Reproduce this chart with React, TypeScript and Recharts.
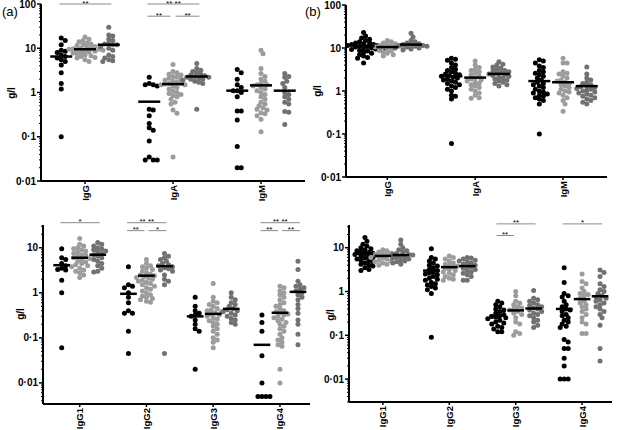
import React from 'react';
import { ScatterChart, Scatter, XAxis, YAxis, ReferenceLine } from 'recharts';

// group colours: black, light grey, dark grey
const groupColors = ['#000000', '#9c9c9c', '#717171'];
const groupOffsets = [-0.27, 0, 0.27];

// ---- panel (a) ----
const panelA_categories = ['IgG', 'IgA', 'IgM'];
const panelA_IgG = [
  [17, 15, 12, 9, 8.5, 8, 7, 6.5, 6, 5.5, 5, 4.2, 2.8, 1.6, 1.2, 0.1],
  [18, 16, 15, 14, 13, 12.5, 12, 11.5, 11, 10.5, 10, 10, 9.8, 9.5, 9.5, 9.2, 9, 8.8, 8.5, 8.2, 8, 7.8, 7.5, 7, 6.8, 6.5, 6.2, 6, 5.5, 5],
  [30, 20, 19, 16, 15, 13, 12.5, 12, 12, 11, 10, 9, 7, 6.5, 6, 5.5, 5.2, 5],
];
const panelA_IgA = [
  [2.2, 1.6, 1.5, 1.5, 1.4, 0.42, 0.4, 0.3, 0.2, 0.16, 0.14, 0.08, 0.035, 0.03, 0.03, 0.03],
  [4.3, 3, 2.8, 2.6, 2.5, 2.3, 2.2, 2.1, 2, 1.9, 1.8, 1.7, 1.6, 1.6, 1.55, 1.5, 1.5, 1.4, 1.3, 1.2, 1.1, 1, 0.95, 0.9, 0.85, 0.8, 0.7, 0.6, 0.55, 0.4, 0.34, 0.035],
  [4.5, 3.5, 3.2, 3, 2.8, 2.6, 2.5, 2.4, 2.3, 2.2, 2.2, 2.1, 2, 2, 1.9, 1.8, 1.7, 1.6, 0.42],
];
const panelA_IgM = [
  [3.3, 2.8, 2, 1.5, 1.3, 1.1, 1.1, 1, 0.8, 0.38, 0.38, 0.24, 0.06, 0.02, 0.02],
  [9, 7.5, 3.5, 2.7, 2.3, 2, 1.8, 1.6, 1.5, 1.5, 1.4, 1.3, 1.2, 1.1, 1, 0.9, 0.8, 0.7, 0.6, 0.55, 0.5, 0.45, 0.42, 0.4, 0.35, 0.33, 0.3, 0.25, 0.13],
  [2.7, 2.3, 2.2, 1.8, 1.6, 1.3, 1, 0.9, 0.8, 0.7, 0.6, 0.55, 0.37, 0.36, 0.19],
];
const panelA_medians = [[6.5, 9.5, 12], [0.62, 1.55, 2.3], [1.1, 1.45, 1.1]];
const panelA_sig = [
  { cat: 0, from: 0, to: 2, y: 100, text: '**' },
  { cat: 1, from: 0, to: 2, y: 100, text: '** **' },
  { cat: 1, from: 0, to: 1, y: 53, text: '**' },
  { cat: 1, from: 1, to: 2, y: 53, text: '**' },
];

// ---- panel (b) ----
const panelB_categories = ['IgG', 'IgA', 'IgM'];
const panelB_IgG = [
  [23, 19, 17, 16, 15, 14, 13, 13, 12.5, 12, 12, 11.5, 11.5, 11, 11, 10.8, 10.5, 10.5, 10, 10, 9.8, 9.5, 9.2, 9, 8.8, 8.5, 8, 7.5, 7, 6.5, 6, 5.8, 4.5],
  [15, 14, 13, 12.5, 12, 11.5, 11, 11, 10.5, 10.5, 10, 10, 9.5, 9, 8.5, 8, 7.5, 7, 6.5],
  [22, 18, 15, 14, 13, 12.5, 12, 12, 11.5, 11.5, 11, 11, 10.5, 10, 10, 9.5, 9],
];
const panelB_IgA = [
  [5.8, 5.5, 5.2, 4.5, 4, 3.5, 3.2, 3, 2.8, 2.6, 2.5, 2.4, 2.3, 2.2, 2.1, 2, 1.9, 1.8, 1.7, 1.6, 1.5, 1.4, 1.3, 1.2, 1.1, 1, 0.8, 0.75, 0.65, 0.06],
  [5, 4, 3.5, 3.2, 3, 2.8, 2.6, 2.4, 2.2, 2, 1.9, 1.8, 1.7, 1.6, 1.5, 1.4, 1.3, 1.2, 1.1, 1, 0.9, 0.8, 0.7, 0.68],
  [4.8, 4.2, 4, 3.6, 3.4, 3.2, 3, 2.9, 2.8, 2.7, 2.6, 2.5, 2.4, 2.3, 2.2, 2.1, 2, 1.9, 1.8, 1.7, 1.6, 1.5, 1.4, 1.3],
];
const panelB_IgM = [
  [5.3, 5, 4.5, 3.8, 3.5, 3, 2.8, 2.6, 2.4, 2.2, 2, 1.8, 1.6, 1.5, 1.4, 1.3, 1.2, 1.1, 1, 0.95, 0.9, 0.85, 0.8, 0.75, 0.7, 0.65, 0.6, 0.5, 0.1],
  [5.8, 4.5, 4.5, 2.8, 2.6, 2.5, 2.2, 2, 1.8, 1.7, 1.6, 1.5, 1.4, 1.3, 1.2, 1.1, 1, 0.95, 0.9, 0.8, 0.7, 0.6, 0.5, 0.34],
  [3.6, 2.5, 2, 1.8, 1.6, 1.5, 1.4, 1.3, 1.25, 1.2, 1.15, 1.1, 1.05, 1, 0.95, 0.9, 0.85, 0.8, 0.75, 0.7, 0.65, 0.6, 0.55, 0.5],
];
const panelB_medians = [[11, 10.5, 12], [2.2, 2.05, 2.5], [1.7, 1.6, 1.3]];

// ---- panel (c) ----
const panelC_categories = ['IgG1', 'IgG2', 'IgG3', 'IgG4'];
const panelC_IgG1 = [
  [9.5, 6, 5.5, 4.5, 4, 3.5, 3.3, 3.2, 1.9, 1, 0.06],
  [16, 12, 11, 10, 9.5, 9, 8.5, 8, 7.5, 7, 6.8, 6.5, 6, 5.8, 5.5, 5, 4.8, 4.5, 4.2, 4, 3.8, 3.5, 3.2, 3, 2.8, 2.5, 2.2],
  [13, 12, 11, 10, 9.5, 9, 8.5, 8, 7.5, 7, 6.5, 6, 5.5, 5, 4.5, 4, 3.5, 3, 2.9],
];
const panelC_IgG2 = [
  [3.8, 1.5, 1.4, 1.3, 1, 0.8, 0.6, 0.4, 0.35, 0.35, 0.14, 0.045],
  [5.5, 4.5, 4, 3.8, 3.5, 3.3, 3, 2.8, 2.6, 2.5, 2.4, 2.3, 2.2, 2.1, 2, 1.9, 1.8, 1.7, 1.6, 1.5, 1.4, 1.3, 1.2, 1.1, 1, 0.9, 0.85, 0.8, 0.75, 0.7, 0.65, 0.62],
  [7.5, 6.5, 6, 5.5, 5, 4.5, 4.2, 4, 3.8, 3.6, 3.4, 3.2, 3, 2.5, 2, 1.8, 1.5, 0.045],
];
const panelC_IgG3 = [
  [0.8, 0.5, 0.4, 0.35, 0.32, 0.3, 0.25, 0.2, 0.16, 0.14, 0.02],
  [1.6, 0.8, 0.65, 0.6, 0.55, 0.5, 0.45, 0.42, 0.4, 0.38, 0.36, 0.34, 0.32, 0.3, 0.28, 0.26, 0.24, 0.22, 0.2, 0.18, 0.16, 0.14, 0.12, 0.1, 0.09, 0.08, 0.06],
  [1, 0.8, 0.7, 0.6, 0.55, 0.5, 0.45, 0.42, 0.4, 0.38, 0.35, 0.32, 0.3, 0.27, 0.25, 0.22, 0.2],
];
const panelC_IgG4 = [
  [0.32, 0.22, 0.14, 0.04, 0.01, 0.005, 0.005, 0.005, 0.005],
  [1.4, 1.3, 1.1, 1, 0.9, 0.8, 0.7, 0.6, 0.55, 0.5, 0.45, 0.4, 0.38, 0.36, 0.34, 0.32, 0.3, 0.28, 0.26, 0.24, 0.22, 0.2, 0.18, 0.16, 0.14, 0.12, 0.1, 0.09, 0.08, 0.07, 0.065, 0.02, 0.01],
  [5, 3.3, 1.8, 1.5, 1.4, 1.3, 1.2, 1.1, 1, 0.9, 0.8, 0.7, 0.55, 0.45, 0.35, 0.25, 0.2, 0.12, 0.07],
];
const panelC_medians = [[4.1, 6, 7], [0.95, 2.4, 3.9], [0.3, 0.34, 0.44], [0.07, 0.36, 1.05]];
const panelC_sig = [
  { cat: 0, from: 0, to: 2, y: 36, text: '*' },
  { cat: 1, from: 0, to: 2, y: 36, text: '** **' },
  { cat: 1, from: 0, to: 1, y: 24, text: '**' },
  { cat: 1, from: 1, to: 2, y: 24, text: '*' },
  { cat: 3, from: 0, to: 2, y: 36, text: '** **' },
  { cat: 3, from: 0, to: 1, y: 24, text: '**' },
  { cat: 3, from: 1, to: 2, y: 24, text: '**' },
];

// ---- panel (d) ----
const panelD_categories = ['IgG1', 'IgG2', 'IgG3', 'IgG4'];
const panelD_IgG1 = [
  [17, 14, 12, 11, 10, 9.5, 9, 8.5, 8, 7.8, 7.5, 7.2, 7, 6.8, 6.5, 6.2, 6, 5.8, 5.5, 5.2, 5, 4.8, 4.5, 4.2, 4, 3.8, 3.5, 3.2, 3],
  [9, 8.5, 8, 7.5, 7.2, 7, 6.8, 6.5, 6.2, 6, 5.8, 5.5, 5.2, 5, 4.8, 4.5, 4.2, 4],
  [15, 12, 10, 9, 8.5, 8, 7.5, 7.2, 7, 6.8, 6.5, 6.2, 6, 5.8, 5.5, 5.2, 5, 4.8, 4.5, 4.2],
];
const panelD_IgG2 = [
  [9.5, 6, 5.5, 5, 4.5, 4, 3.8, 3.5, 3.2, 3, 2.8, 2.6, 2.5, 2.4, 2.2, 2, 1.9, 1.8, 1.6, 1.5, 1.4, 1.3, 1.2, 1.1, 0.9, 0.09],
  [6.5, 6, 5.5, 5, 4.5, 4.2, 4, 3.8, 3.6, 3.4, 3.2, 3, 2.8, 2.6, 2.4, 2.2, 2, 1.9, 1.8],
  [6, 5.8, 5.5, 5.2, 5, 4.8, 4.5, 4.2, 4, 3.8, 3.6, 3.4, 3.2, 3, 2.8, 2.6, 2.4, 2.2, 1.8, 1.8],
];
const panelD_IgG3 = [
  [0.6, 0.55, 0.5, 0.45, 0.4, 0.38, 0.35, 0.32, 0.3, 0.28, 0.27, 0.26, 0.25, 0.24, 0.22, 0.2, 0.19, 0.18, 0.16, 0.15, 0.14, 0.12, 0.12],
  [1, 0.8, 0.6, 0.55, 0.5, 0.45, 0.42, 0.4, 0.38, 0.35, 0.32, 0.3, 0.25, 0.2, 0.18, 0.12, 0.11, 0.1],
  [1.05, 0.7, 0.65, 0.6, 0.55, 0.5, 0.48, 0.45, 0.42, 0.4, 0.38, 0.35, 0.32, 0.3, 0.28, 0.25, 0.22, 0.2, 0.17, 0.15],
];
const panelD_IgG4 = [
  [3.5, 1.6, 0.9, 0.8, 0.75, 0.6, 0.5, 0.45, 0.4, 0.38, 0.35, 0.3, 0.28, 0.25, 0.22, 0.2, 0.18, 0.16, 0.15, 0.08, 0.07, 0.05, 0.05, 0.03, 0.02, 0.01, 0.01, 0.01],
  [2.5, 1.7, 1.5, 1.2, 1, 0.9, 0.85, 0.8, 0.7, 0.6, 0.55, 0.5, 0.45, 0.4, 0.35, 0.3, 0.25, 0.2, 0.18, 0.11, 0.11],
  [3.1, 2.7, 2.2, 1.5, 1.3, 1.1, 1, 0.9, 0.8, 0.75, 0.7, 0.65, 0.6, 0.55, 0.5, 0.45, 0.4, 0.35, 0.3, 0.25, 0.17, 0.05, 0.026],
];
const panelD_medians = [[7.3, 6.5, 6.8], [3, 3.6, 3.8], [0.28, 0.37, 0.41], [0.4, 0.67, 0.78]];
const panelD_sig = [
  { cat: 2, from: 0, to: 2, y: 35, text: '**' },
  { cat: 2, from: 0, to: 1, y: 19, text: '**' },
  { cat: 3, from: 0, to: 2, y: 35, text: '*' },
];

const FONT = '"Liberation Sans", Arial, sans-serif';
const DOT_R = 2.5;

type Sig = { cat: number; from: number; to: number; y: number; text: string };

function logTicks(lo: number, hi: number) {
  const t: number[] = [];
  for (let e = -3; e <= 2; e++) {
    for (let m = 1; m <= 9; m++) {
      const v = +(m * Math.pow(10, e)).toPrecision(3);
      if (v >= lo && v <= hi) t.push(v);
    }
  }
  return t;
}

const isMajor = (v: number) => Math.abs(Math.log10(v) - Math.round(Math.log10(v))) < 1e-6;
const fmt = (v: number) => String(v).replace('.', '·');

// simple beeswarm, dots may overlap a little like the original plot
function swarm(values: number[], pxX: number, pxY: number) {
  const order = values.map((_, i) => i).sort((a, b) => values[b] - values[a]);
  const placed: { x: number; y: number }[] = [];
  const out = new Array(values.length).fill(0);
  const minDist = DOT_R * 1.55;
  const step = DOT_R * 0.8;
  for (const i of order) {
    const y = Math.log10(values[i]) * pxY;
    let best = 0;
    for (let k = 0; k < 80; k++) {
      const cand = k === 0 ? 0 : (k % 2 ? 1 : -1) * Math.ceil(k / 2) * step;
      if (placed.every((p) => Math.hypot(p.x - cand, p.y - y) >= minDist)) {
        best = cand;
        break;
      }
    }
    placed.push({ x: best, y });
    out[i] = best / pxX;
  }
  return out;
}

const YTick = (props: any) => {
  const { x, y, payload } = props;
  const major = isMajor(payload.value);
  return (
    <g>
      <line x1={x - (major ? 4 : 2)} x2={x} y1={y} y2={y} stroke="#000" strokeWidth={major ? 1.5 : 1} />
      {major && (
        <text x={x - 5} y={y} dy={3.5} textAnchor="end" fontSize={10} fontWeight="bold" fontFamily={FONT} fill="#000">
          {fmt(payload.value)}
        </text>
      )}
    </g>
  );
};

const makeXTick = (labels: string[]) => (props: any) => {
  const { x, y, payload } = props;
  return (
    <g>
      <line x1={x} x2={x} y1={y} y2={y + 3} stroke="#000" strokeWidth={1.5} />
      <text
        transform={`translate(${x + 3.5},${y + 4}) rotate(-90)`}
        textAnchor="end"
        fontSize={9.5}
        fontWeight="bold"
        fontFamily={FONT}
        fill="#000"
      >
        {labels[payload.value]}
      </text>
    </g>
  );
};

type PanelProps = {
  left: number;
  top: number;
  width: number;
  height: number;
  margin: { top: number; right: number; bottom: number; left: number };
  yAxisWidth: number;
  xAxisHeight: number;
  xDomain: [number, number];
  yDomain: [number, number];
  categories: string[];
  groups: number[][][];
  medians: number[][];
  sig: Sig[];
};

function Panel(p: PanelProps) {
  const plotW = p.width - p.margin.left - p.margin.right - p.yAxisWidth;
  const plotH = p.height - p.margin.top - p.margin.bottom - p.xAxisHeight;
  const pxX = plotW / (p.xDomain[1] - p.xDomain[0]);
  const pxY = plotH / Math.log10(p.yDomain[1] / p.yDomain[0]);
  const halfBar = 0.125 * pxX;

  const series = [0, 1, 2].map((g) =>
    p.groups.flatMap((cat, ci) => {
      const vals = cat[g];
      const offs = swarm(vals, pxX, pxY);
      return vals.map((v, i) => ({ x: ci + groupOffsets[g] + offs[i], y: v }));
    })
  );
  const medianData = p.medians.flatMap((row, ci) => row.map((m, g) => ({ x: ci + groupOffsets[g], y: m })));

  const sigX = (s: Sig) => {
    const x1 = s.cat + groupOffsets[s.from] + (s.from === 1 ? 0.03 : -0.02);
    const x2 = s.cat + groupOffsets[s.to] + (s.to === 1 ? -0.03 : 0.03);
    return [x1, x2];
  };

  return (
    <div style={{ position: 'absolute', left: p.left, top: p.top }}>
      <ScatterChart width={p.width} height={p.height} margin={p.margin}>
        <XAxis
          type="number"
          dataKey="x"
          domain={p.xDomain}
          ticks={p.categories.map((_, i) => i)}
          interval={0}
          height={p.xAxisHeight}
          tickSize={0}
          tickMargin={0}
          tickLine={false}
          axisLine={{ stroke: '#000', strokeWidth: 2 }}
          tick={makeXTick(p.categories)}
          allowDataOverflow
        />
        <YAxis
          type="number"
          dataKey="y"
          scale="log"
          domain={p.yDomain}
          ticks={logTicks(p.yDomain[0], p.yDomain[1])}
          interval={0}
          width={p.yAxisWidth}
          tickSize={0}
          tickMargin={0}
          tickLine={false}
          axisLine={{ stroke: '#000', strokeWidth: 2 }}
          tick={YTick}
          allowDataOverflow
        />
        {series.map((d, g) => (
          <Scatter
            key={g}
            data={d}
            isAnimationActive={false}
            shape={(s: any) => <circle cx={s.cx} cy={s.cy} r={DOT_R} fill={groupColors[g]} />}
          />
        ))}
        <Scatter
          data={medianData}
          isAnimationActive={false}
          shape={(s: any) => (
            <line x1={s.cx - halfBar} x2={s.cx + halfBar} y1={s.cy} y2={s.cy} stroke="#000" strokeWidth={2.5} />
          )}
        />
        {p.sig.map((s, i) => {
          const [x1, x2] = sigX(s);
          return (
            <ReferenceLine
              key={`s-${i}`}
              segment={[
                { x: x1, y: s.y },
                { x: x2, y: s.y },
              ]}
              stroke="#8a8a8a"
              strokeWidth={1}
              ifOverflow="visible"
              label={{ value: s.text, position: 'top', offset: -1.5, fontSize: 8, fill: '#000', fontFamily: FONT }}
            />
          );
        })}
      </ScatterChart>
    </div>
  );
}

const textStyle: React.CSSProperties = { position: 'absolute', fontFamily: FONT, color: '#000' };

function YLabel({ x, y }: { x: number; y: number }) {
  return (
    <div
      style={{
        ...textStyle,
        left: x,
        top: y,
        fontSize: 10,
        fontWeight: 'bold',
        transform: 'translate(-50%, -50%) rotate(-90deg)',
        whiteSpace: 'nowrap',
      }}
    >
      g/l
    </div>
  );
}

export default function App() {
  return (
    <div style={{ position: 'absolute', left: 0, top: 0, width: 617, height: 430, background: '#fff' }}>
      <Panel
        left={0}
        top={0}
        width={310}
        height={215}
        margin={{ top: 4, right: 5, bottom: 4, left: 0 }}
        yAxisWidth={41}
        xAxisHeight={30}
        xDomain={[-0.5, 2.5]}
        yDomain={[0.01, 100]}
        categories={panelA_categories}
        groups={[panelA_IgG, panelA_IgA, panelA_IgM]}
        medians={panelA_medians}
        sig={panelA_sig}
      />
      <Panel
        left={305}
        top={0}
        width={312}
        height={215}
        margin={{ top: 5, right: 10, bottom: 8, left: 0 }}
        yAxisWidth={41}
        xAxisHeight={30}
        xDomain={[-0.47, 2.5]}
        yDomain={[0.01, 100]}
        categories={panelB_categories}
        groups={[panelB_IgG, panelB_IgA, panelB_IgM]}
        medians={panelB_medians}
        sig={[]}
      />
      <Panel
        left={0}
        top={210}
        width={312}
        height={220}
        margin={{ top: 15, right: 2, bottom: 2, left: 0 }}
        yAxisWidth={43}
        xAxisHeight={24}
        xDomain={[-0.55, 3.45]}
        yDomain={[0.0034, 32]}
        categories={panelC_categories}
        groups={[panelC_IgG1, panelC_IgG2, panelC_IgG3, panelC_IgG4]}
        medians={panelC_medians}
        sig={panelC_sig}
      />
      <Panel
        left={305}
        top={210}
        width={312}
        height={220}
        margin={{ top: 15, right: 5, bottom: 4, left: 0 }}
        yAxisWidth={44}
        xAxisHeight={24}
        xDomain={[-0.51, 3.45]}
        yDomain={[0.003, 33]}
        categories={panelD_categories}
        groups={[panelD_IgG1, panelD_IgG2, panelD_IgG3, panelD_IgG4]}
        medians={panelD_medians}
        sig={panelD_sig}
      />
      <div style={{ ...textStyle, left: 2, top: 4, fontSize: 13 }}>(a)</div>
      <div style={{ ...textStyle, left: 305, top: 4, fontSize: 13 }}>(b)</div>
      <YLabel x={11} y={93} />
      <YLabel x={317} y={91} />
      <YLabel x={20} y={314} />
      <YLabel x={330} y={315} />
    </div>
  );
}
